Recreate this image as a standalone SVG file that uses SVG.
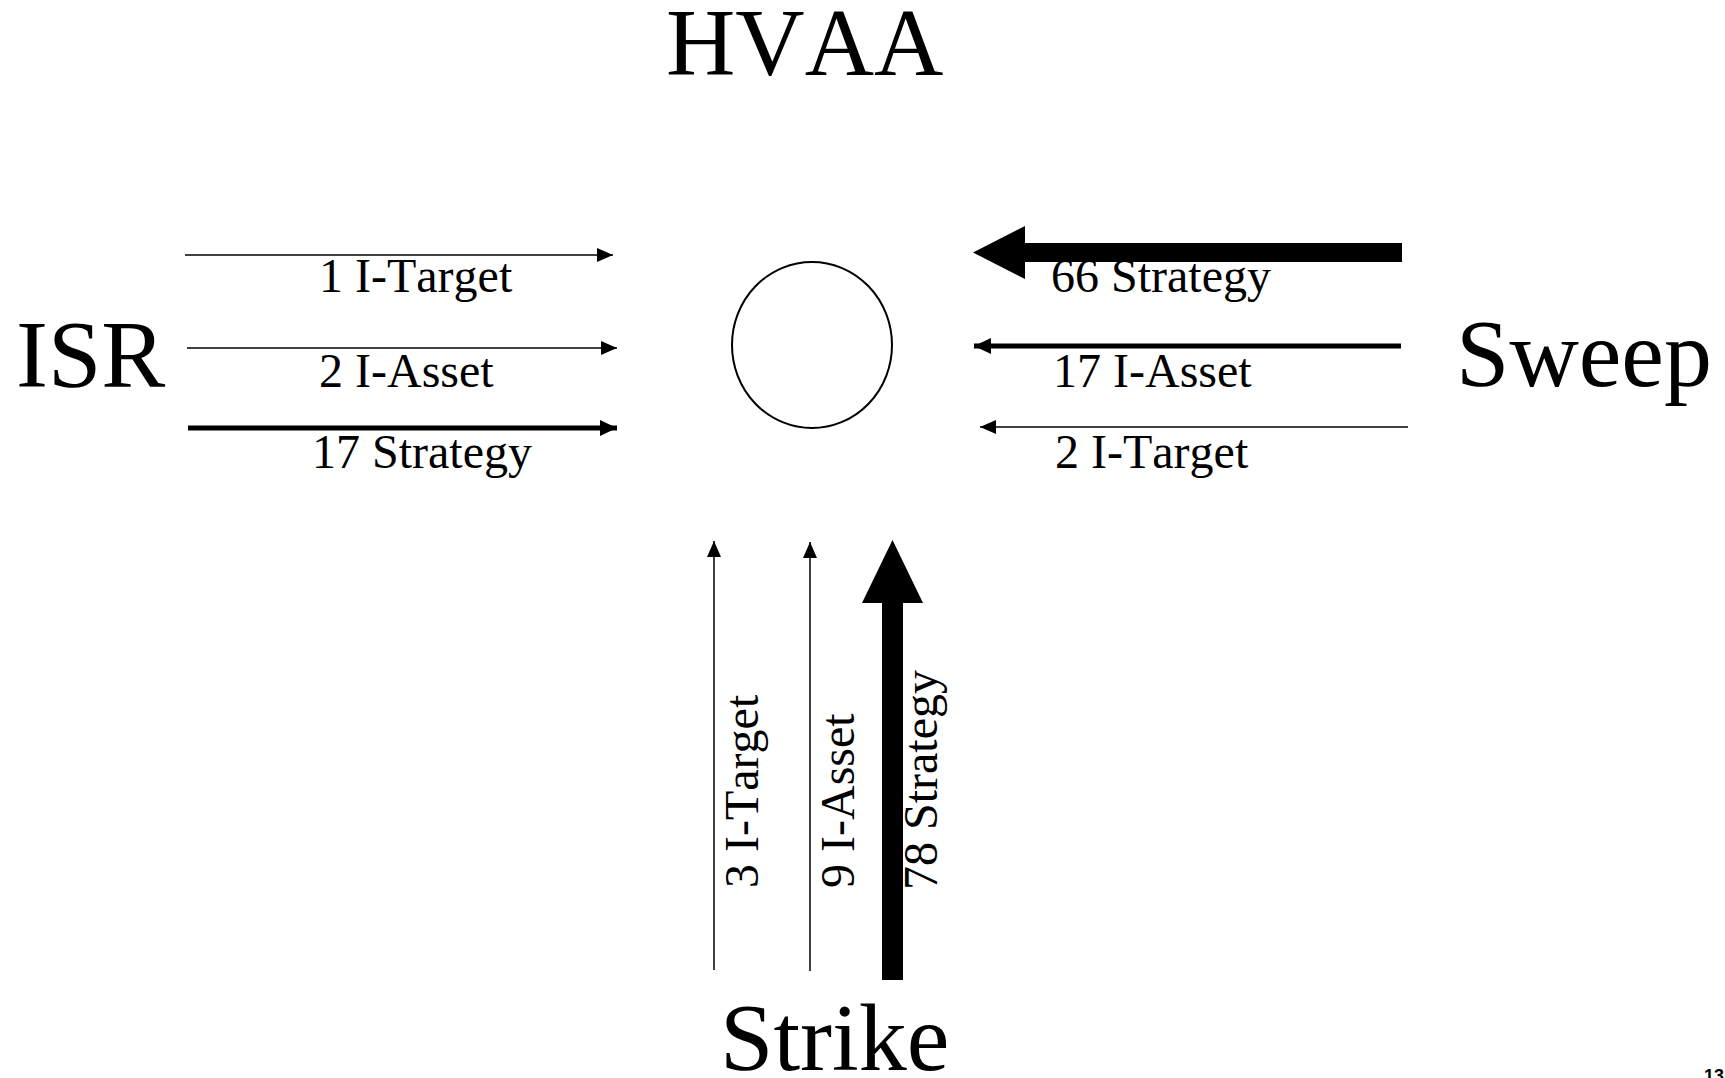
<svg xmlns="http://www.w3.org/2000/svg" width="1725" height="1078" viewBox="0 0 1725 1078">
<style>
  text { font-family: "Liberation Serif", "Times New Roman", serif; fill: #000; font-kerning: none; }
  .big { font-size: 96px; }
  .lbl { font-size: 48px; }
  .pg { font-family: "Liberation Sans", Arial, sans-serif; font-weight: bold; font-size: 18px; }
  .thin { stroke: #000; stroke-width: 1.5; fill: none; }
  .med { stroke: #000; stroke-width: 5; fill: none; }
  .block { fill: #000; stroke: none; }
</style>
<defs>
  <marker id="ahThin" viewBox="0 0 16 14" refX="16" refY="7" markerWidth="16" markerHeight="14" markerUnits="userSpaceOnUse" orient="auto">
    <path d="M0,0 L16,7 L0,14 Z" fill="#000"/>
  </marker>
  <marker id="ahMed" viewBox="0 0 17 16" refX="17" refY="8" markerWidth="17" markerHeight="16" markerUnits="userSpaceOnUse" orient="auto">
    <path d="M0,0 L17,8 L0,16 Z" fill="#000"/>
  </marker>
</defs>
<rect width="1725" height="1078" fill="#fff"/>

<g id="hvaa">
  <text class="big" x="666" y="75">HVAA</text>
  <ellipse cx="812" cy="345" rx="80" ry="83" fill="none" stroke="#000" stroke-width="2"/>
</g>
<g id="isr">
  <text class="big" x="16" y="387">ISR</text>
</g>
<g id="sweep">
  <text class="big" x="1456" y="386">Sweep</text>
</g>
<g id="strike">
  <text class="big" x="720" y="1070">Strike</text>
</g>

<g id="connectors">
  <!-- ISR -> HVAA -->
  <line class="thin" x1="185" y1="255" x2="613" y2="255" marker-end="url(#ahThin)"/>
  <line class="thin" x1="187" y1="348" x2="617" y2="348" marker-end="url(#ahThin)"/>
  <line class="med" x1="188" y1="428" x2="617" y2="428" marker-end="url(#ahMed)"/>
  <!-- Sweep -> HVAA -->
  <polygon class="block" points="1402,243 1025,243 1025,226 973,252.5 1025,279 1025,262 1402,262"/>
  <line class="med" x1="1401" y1="346" x2="974" y2="346" marker-end="url(#ahMed)"/>
  <line class="thin" x1="1408" y1="427" x2="980" y2="427" marker-end="url(#ahThin)"/>
  <!-- Strike -> HVAA -->
  <line class="thin" x1="714" y1="970" x2="714" y2="541" marker-end="url(#ahThin)"/>
  <line class="thin" x1="810" y1="971" x2="810" y2="542" marker-end="url(#ahThin)"/>
  <polygon class="block" points="882,980 882,603 862,603 892.5,540 923,603 903,603 903,980"/>
</g>

<g id="labels">
  <text class="lbl" x="319" y="292">1 I-Target</text>
  <text class="lbl" x="319" y="387">2 I-Asset</text>
  <text class="lbl" x="312" y="468">17 Strategy</text>
  <text class="lbl" x="1051" y="292">66 Strategy</text>
  <text class="lbl" x="1053" y="387">17 I-Asset</text>
  <text class="lbl" x="1055" y="468">2 I-Target</text>
  <text class="lbl" transform="translate(758,888) rotate(-90)">3 I-Target</text>
  <text class="lbl" transform="translate(854,888) rotate(-90)">9 I-Asset</text>
  <text class="lbl" transform="translate(937,890) rotate(-90)">78 Strategy</text>
</g>

<text class="pg" x="1704" y="1082">13</text>
</svg>
